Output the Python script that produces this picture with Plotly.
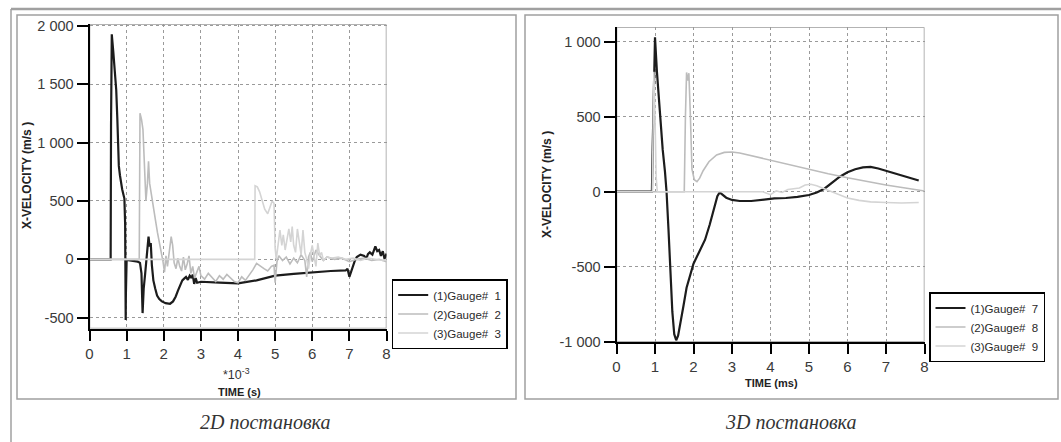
import plotly.graph_objects as go

# ---------------- data: 2D (left) ----------------
g1_t = [0, 0.57, 0.58, 0.59, 0.60, 0.64, 0.68, 0.72, 0.75, 0.77,
        0.79, 0.82, 0.85, 0.88, 0.91, 0.94, 0.96, 0.975, 0.98, 1.00,
        1.10, 1.20, 1.30, 1.36, 1.40, 1.43, 1.46, 1.50, 1.54, 1.57,
        1.59, 1.62, 1.65, 1.68, 1.72, 1.77, 1.82, 1.88, 1.95, 2.05,
        2.17, 2.25, 2.32, 2.38, 2.44, 2.50, 2.55, 2.60, 2.65, 2.70,
        2.75, 2.78, 2.82, 2.86, 2.90, 3.00, 3.50, 4.00, 4.50, 5.00,
        5.50, 6.00, 6.50, 6.90, 6.95, 7.00, 7.03, 7.08, 7.15, 7.20,
        7.30, 7.40, 7.45, 7.50, 7.55, 7.62, 7.70, 7.75, 7.80, 7.85,
        7.90, 7.95, 8.00]
g1_v = [0, 0, 1150, 1900, 1926, 1780, 1620, 1450, 1200, 860,
        800, 720, 650, 600, 560, 520, 300, -520, -300, -5,
        -10, -15, -20, -30, -120, -460, -250, -120, 20, 150,
        195, 110, 140, -50, -180, -250, -310, -340, -360, -375,
        -380, -360, -320, -270, -230, -180, -165, -150, -175, -140,
        -160, -130, -210, -160, -200, -192, -200, -205, -180, -140,
        -125, -110, -100, -95, -80, -150, -120, -60, -10, 20,
        40, 30, 0, 45, 60, 40, 110, 70, 80, 30,
        70, 0, 50]

g2_t = [0, 1.34, 1.36, 1.40, 1.44, 1.48, 1.52, 1.56, 1.59, 1.62,
        1.66, 1.70, 1.74, 1.78, 1.83, 1.88, 1.93, 1.98, 2.02, 2.06,
        2.10, 2.15, 2.20, 2.24, 2.28, 2.33, 2.38, 2.43, 2.48, 2.53,
        2.58, 2.63, 2.68, 2.73, 2.78, 2.83, 2.90, 2.95, 3.00, 3.10,
        3.20, 3.30, 3.40, 3.50, 3.60, 3.70, 3.80, 3.90, 4.00, 4.10,
        4.20, 4.30, 4.40, 4.50, 4.60, 4.70, 4.80, 4.90, 4.97, 5.00,
        5.05, 5.10, 5.20, 5.30, 5.40, 5.50, 5.60, 5.70, 5.80, 5.85,
        5.90, 5.95, 6.00, 6.10, 6.20, 6.30, 6.40, 6.60, 6.80, 7.00,
        7.20, 7.40, 7.60, 7.80, 8.00]
g2_v = [0, 0, 1250, 1200, 1110, 800, 500, 650, 840, 650,
        560, 480, 420, 330, 230, 150, 80, -20, -110, 30,
        -60, 50, 195, 120, -30, -80, 10, -60, -100, 20,
        -90, -40, 30, -120, -60, -160, -100, -60, -140, -170,
        -120, -160, -190, -140, -170, -130, -160, -190, -200, -150,
        -180, -140, -90, -35, -60, -80, -100, -60, -50, -200,
        -20, 30, -10, 20, -40, 10, -30, 40, -10, -150,
        20, 60, -20, 80, 30, -10, 20, 0, 10, -20,
        0, 10, -10, 0, -20]

g3_t = [0, 4.45, 4.46, 4.52, 4.58, 4.65, 4.72, 4.80, 4.86, 4.92,
        4.97, 5.00, 5.03, 5.08, 5.13, 5.18, 5.22, 5.27, 5.32, 5.37,
        5.42, 5.46, 5.50, 5.55, 5.60, 5.65, 5.70, 5.75, 5.80, 5.85,
        5.90, 5.95, 6.00, 6.05, 6.10, 6.15, 6.20, 6.25, 6.30, 6.40,
        6.50, 6.70, 6.90, 7.10, 7.30, 7.50, 7.70, 7.90, 8.00]
g3_v = [0, 0, 630, 620, 580, 500, 430, 390, 440, 500,
        480, 100, 0, 150, 250, 120, 210, 80, 180, 260,
        150, 280, 120, 60, 260, 150, 40, 250, 60, 0,
        -80, 40, 120, 20, -60, 140, 30, 60, -10, 20,
        10, 20, 0, 10, -10, 10, 0, -10, 0]

# ---------------- data: 3D (right) ----------------
g7_t = [0, 0.92, 0.94, 0.97, 1.00, 1.05, 1.12, 1.20, 1.26, 1.30,
        1.35, 1.40, 1.45, 1.50, 1.55, 1.60, 1.66, 1.74, 1.82, 1.90,
        2.00, 2.15, 2.30, 2.42, 2.52, 2.62, 2.68, 2.75, 2.85, 3.00,
        3.20, 3.50, 3.80, 4.10, 4.40, 4.70, 5.00, 5.20, 5.40, 5.60,
        5.80, 6.00, 6.20, 6.40, 6.60, 6.80, 7.00, 7.20, 7.40, 7.60,
        7.85]
g7_v = [0, 0, 300, 800, 1030, 800, 550, 280, 130, 0,
        -250, -550, -800, -950, -990, -960, -880, -760, -640, -560,
        -480, -400, -320, -220, -120, -30, -5, -20, -40, -55,
        -62, -62, -52, -45, -42, -35, -22, -5, 20, 60,
        100, 130, 150, 162, 165, 155, 140, 125, 108, 92,
        75]

g8_t = [0, 1.76, 1.79, 1.82, 1.85, 1.88, 1.92, 1.96, 2.02, 2.09,
        2.16, 2.25, 2.40, 2.60, 2.80, 3.00, 3.20, 3.50, 4.00, 4.50,
        5.00, 5.50, 6.00, 6.50, 7.00, 7.50, 8.00]
g8_v = [0, 0, 500, 795, 740, 790, 500, 150, 80, 67,
        90, 140, 200, 245, 262, 265, 258, 240, 205, 175,
        148, 120, 93, 68, 45, 25, 5]

g9_t = [0, 0.93, 0.95, 0.97, 1.00, 1.03, 1.06, 2.00, 3.00, 3.80,
        4.00, 4.15, 4.30, 4.45, 4.60, 4.75, 4.90, 5.05, 5.20, 5.40,
        5.60, 5.80, 6.00, 6.30, 6.60, 7.00, 7.40, 7.85]
g9_v = [0, 0, 400, 800, 500, 100, 0, 0, 0, 0,
        -20, 5, -5, 15, 20, 25, 45, 50, 40, 20,
        0, -25, -42, -58, -68, -72, -75, -72]

left_names = ["(1)Gauge#\u00a0\u00a01", "(2)Gauge#\u00a0\u00a02", "(3)Gauge#\u00a0\u00a03"]
right_names = ["(1)Gauge#\u00a0\u00a07", "(2)Gauge#\u00a0\u00a08", "(3)Gauge#\u00a0\u00a09"]

x_ticks = [0, 1, 2, 3, 4, 5, 6, 7, 8]
left_yticks = [-500, 0, 500, 1000, 1500, 2000]
left_yticktext = ["-500", "0", "500", "1 000", "1 500", "2 000"]
right_yticks = [-1000, -500, 0, 500, 1000]
right_yticktext = ["-1 000", "-500", "0", "500", "1 000"]

# ---------------- layout helpers ----------------
W, H = 1061, 442
def px(x):
    return x / W
def py(y):
    return 1 - y / H

FONT = "Liberation Sans, Arial, sans-serif"
colors = ["#1c1c1c", "#bcbcbc", "#d4d4d4"]
widths = [2.2, 1.6, 1.6]

fig = go.Figure()
for (t, v), name, c, w in zip([(g1_t, g1_v), (g2_t, g2_v), (g3_t, g3_v)], left_names, colors, widths):
    fig.add_trace(go.Scatter(x=t, y=v, mode="lines", name=name, line=dict(color=c, width=w),
                             xaxis="x", yaxis="y", legend="legend"))
for (t, v), name, c, w in zip([(g7_t, g7_v), (g8_t, g8_v), (g9_t, g9_v)], right_names, colors, widths):
    fig.add_trace(go.Scatter(x=t, y=v, mode="lines", name=name, line=dict(color=c, width=w),
                             xaxis="x2", yaxis="y2", legend="legend2"))

L_YR = [-592, 2012]
R_YR = [-1000, 1096]

common_x = dict(range=[0, 8], tickvals=x_ticks, ticks="outside", ticklen=10, tickwidth=2,
                tickcolor="black", showline=True, linecolor="black", linewidth=2,
                showgrid=True, gridcolor="#9a9a9a", griddash="dot", gridwidth=1,
                zeroline=False, automargin=False,
                tickfont=dict(size=15, family=FONT, color="#3a3a3a"))
common_y = dict(ticks="outside", ticklen=11, tickwidth=2, tickcolor="black", showline=True,
                linecolor="black", linewidth=2, showgrid=True, gridcolor="#9a9a9a",
                griddash="dot", gridwidth=1, zeroline=False, automargin=False,
                tickfont=dict(size=14.5, family=FONT, color="#3a3a3a"))

fig.update_layout(
    width=W, height=H, autosize=False,
    margin=dict(l=0, r=0, t=0, b=0, pad=0, autoexpand=False),
    paper_bgcolor="white", plot_bgcolor="white", showlegend=True,
    xaxis=dict(domain=[px(89.5), px(386.5)], anchor="y", **common_x),
    yaxis=dict(domain=[py(328.5), py(24.3)], anchor="x", range=L_YR, tickvals=left_yticks,
               ticktext=left_yticktext, **common_y),
    xaxis2=dict(domain=[px(616.5), px(924.5)], anchor="y2", **common_x),
    yaxis2=dict(domain=[py(341.7), py(27.3)], anchor="x2", range=R_YR, tickvals=right_yticks,
                ticktext=right_yticktext, **common_y),
    legend=dict(x=px(391.7), y=py(314), xanchor="left", yanchor="middle", bordercolor="black",
                borderwidth=1.5, bgcolor="white", tracegroupgap=0,
                font=dict(size=11.5, family=FONT, color="#2a2a2a")),
    legend2=dict(x=px(929), y=py(327), xanchor="left", yanchor="middle", bordercolor="black",
                 borderwidth=1.5, bgcolor="white", tracegroupgap=0,
                 font=dict(size=11.5, family=FONT, color="#2a2a2a")),
)

shapes = [
    # plot frames (grey top/right)
    dict(type="rect", xref="x", yref="y", x0=0, x1=8, y0=L_YR[0], y1=L_YR[1],
         line=dict(color="#9a9a9a", width=1.5), layer="below"),
    dict(type="rect", xref="x2", yref="y2", x0=0, x1=8, y0=R_YR[0], y1=R_YR[1],
         line=dict(color="#9a9a9a", width=1.5), layer="below"),
    # panel boxes
    dict(type="rect", xref="paper", yref="paper", x0=px(17), x1=px(516), y0=py(399), y1=py(15),
         line=dict(color="#a0a0a0", width=1.5), layer="below"),
    dict(type="rect", xref="paper", yref="paper", x0=px(525), x1=px(1058), y0=py(399), y1=py(15),
         line=dict(color="#a0a0a0", width=1.5), layer="below"),
    # outer frame lines
    dict(type="line", xref="paper", yref="paper", x0=px(11), x1=1, y0=py(9), y1=py(9),
         line=dict(color="#a0a0a0", width=2.5)),
    dict(type="line", xref="paper", yref="paper", x0=px(11), x1=px(11), y0=0, y1=py(9),
         line=dict(color="#a0a0a0", width=1.5)),
]
fig.update_layout(shapes=shapes)

def ann(x, y, text, size, angle=0, color="#222", family=FONT):
    return dict(xref="paper", yref="paper", x=px(x), y=py(y), text=text, showarrow=False,
                xanchor="center", yanchor="middle", textangle=angle,
                font=dict(size=size, family=family, color=color))

SERIF = "Liberation Serif, Times New Roman, serif"
fig.update_layout(annotations=[
    ann(27, 176, "<b>X-VELOCITY (m/s )</b>", 12, angle=-90),
    ann(236, 374, "*10<sup>-3</sup>", 12.5, color="#333"),
    ann(239, 392, "<b>TIME (s)</b>", 11),
    ann(547, 185, "<b>X-VELOCITY (m/s )</b>", 12, angle=-90),
    ann(771, 383, "<b>TIME (ms)</b>", 11),
    ann(265, 422, "<i>2D постановка</i>", 20, color="#333", family=SERIF),
    ann(790, 422, "<i>3D постановка</i>", 20, color="#333", family=SERIF),
])

fig.write_html("out.html", config={"displayModeBar": False},
               post_script="document.body.style.margin='0';document.body.style.overflow='hidden';")
